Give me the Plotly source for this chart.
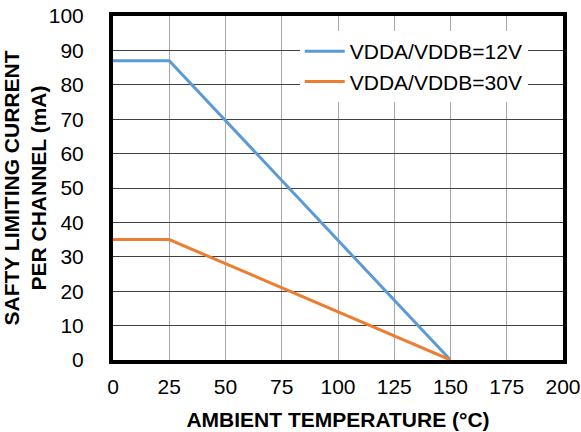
import plotly.graph_objects as go

temp_12v = [0, 25, 150]
current_12v = [87, 87, 0]
temp_30v = [0, 25, 150]
current_30v = [35, 35, 0]
series_names = ["VDDA/VDDB=12V", "VDDA/VDDB=30V"]
x_ticks = [0, 25, 50, 75, 100, 125, 150, 175, 200]
y_ticks = [0, 10, 20, 30, 40, 50, 60, 70, 80, 90, 100]

fig = go.Figure()
fig.add_trace(go.Scatter(x=temp_12v, y=current_12v, mode="lines", name=series_names[0],
                         line=dict(color="#5B9BD5", width=3)))
fig.add_trace(go.Scatter(x=temp_30v, y=current_30v, mode="lines", name=series_names[1],
                         line=dict(color="#ED7D31", width=3)))

font = "Arial, Liberation Sans, sans-serif"
fig.update_layout(
    width=581, height=432,
    margin=dict(l=113, r=18, t=16, b=72, autoexpand=False),
    paper_bgcolor="white", plot_bgcolor="white",
    font=dict(family=font, size=21, color="black"),
    legend=dict(x=0.415, y=0.956, xanchor="left", yanchor="top",
                bgcolor="white", font=dict(size=21), itemwidth=40,
                tracegroupgap=4),
    xaxis=dict(range=[0, 200], tickvals=x_ticks, showgrid=True, gridcolor="#A6A6A6", gridwidth=1,
               showline=True, linecolor="black", linewidth=4, mirror=True, zeroline=False,
               ticks="", ticklabelstandoff=5, automargin=False,
               title=dict(text="<b>AMBIENT TEMPERATURE (°C)</b>", font=dict(size=21), standoff=16)),
    yaxis=dict(range=[0, 100], tickvals=y_ticks, showgrid=True, gridcolor="#404040", gridwidth=1,
               showline=True, linecolor="black", linewidth=4, mirror=True, zeroline=False,
               ticks="", ticklabelstandoff=21, automargin=False,
               title=dict(text="<b>SAFTY LIMITING CURRENT<br>PER CHANNEL (mA)</b>", font=dict(size=21), standoff=0)),
)
fig.write_html("out.html")
